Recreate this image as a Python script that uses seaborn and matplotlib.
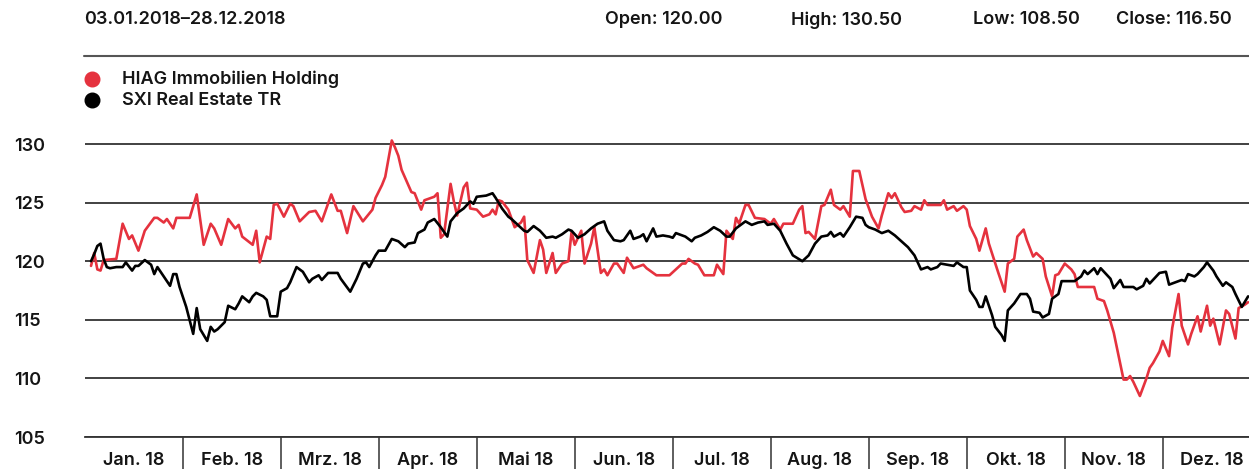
import pandas as pd
import matplotlib.pyplot as plt
import matplotlib.lines as mlines
import seaborn as sns

# values (dates as MM-DD in 2018)
hiag_dates = [
    "01-03", "01-04", "01-05", "01-06", "01-07", "01-11", "01-13", "01-15", "01-16", "01-18", "01-20", "01-23", "01-24", "01-26", "01-27", "01-29", "01-30",
    "02-03", "02-05", "02-07", "02-09", "02-10", "02-12", "02-14", "02-16", "02-17", "02-18", "02-21", "02-22", "02-23", "02-25", "02-26", "02-27", "02-28",
    "03-02", "03-04", "03-05", "03-07", "03-10", "03-12", "03-14", "03-17", "03-19", "03-20", "03-22", "03-24", "03-27", "03-30", "03-31",
    "04-02", "04-03", "04-05", "04-06", "04-07", "04-08", "04-11", "04-12", "04-14", "04-15", "04-18", "04-19", "04-20", "04-21", "04-23", "04-24", "04-25", "04-27", "04-28", "04-29",
    "05-01", "05-03", "05-05", "05-06", "05-07", "05-08", "05-09", "05-11", "05-13", "05-15", "05-16", "05-17", "05-19", "05-21", "05-22", "05-23", "05-25", "05-26", "05-28", "05-30", "05-31",
    "06-01", "06-03", "06-04", "06-06", "06-07", "06-09", "06-10", "06-11", "06-13", "06-14", "06-16", "06-17", "06-19", "06-22", "06-23", "06-26", "06-30",
    "07-04", "07-05", "07-06", "07-08", "07-09", "07-11", "07-14", "07-15", "07-17", "07-18", "07-20", "07-21", "07-22", "07-24", "07-25", "07-27", "07-30",
    "08-01", "08-02", "08-04", "08-05", "08-08", "08-10", "08-11", "08-12", "08-13", "08-15", "08-17", "08-18", "08-20", "08-21", "08-23", "08-24", "08-26", "08-27", "08-29", "08-31",
    "09-02", "09-04", "09-05", "09-07", "09-08", "09-09", "09-11", "09-12", "09-14", "09-15", "09-17", "09-18", "09-19", "09-23", "09-24", "09-25", "09-27", "09-28", "09-30",
    "10-01", "10-02", "10-04", "10-05", "10-07", "10-08", "10-11", "10-13", "10-14", "10-16", "10-17", "10-19", "10-20", "10-22", "10-23", "10-25", "10-26", "10-28", "10-29", "10-30",
    "11-01", "11-03", "11-04", "11-05", "11-10", "11-11", "11-13", "11-14", "11-16", "11-19", "11-20", "11-21", "11-22", "11-24", "11-26", "11-27", "11-28", "11-30",
    "12-01", "12-03", "12-04", "12-06", "12-07", "12-09", "12-10", "12-12", "12-13", "12-15", "12-16", "12-17", "12-19", "12-21", "12-22", "12-24", "12-25", "12-27", "12-28",
]
hiag_values = [
    119.6, 120.7, 119.3, 119.2, 120.1, 120.2, 123.2, 121.9, 122.2, 120.9, 122.6, 123.7, 123.7, 123.3, 123.6, 122.8, 123.7,
    123.7, 125.7, 121.4, 123.2, 122.8, 121.4, 123.6, 122.8, 123.1, 122.1, 121.4, 122.6, 119.9, 122.1, 121.9, 124.8, 124.9,
    123.8, 124.9, 124.7, 123.4, 124.2, 124.3, 123.4, 125.7, 124.3, 124.3, 122.4, 124.7, 123.4, 124.4, 125.4,
    126.5, 127.2, 130.3, 129.7, 129.0, 127.8, 125.9, 125.8, 124.4, 125.2, 125.5, 125.8, 122.0, 122.3, 126.6, 125.1, 123.9, 126.3, 126.7, 124.5,
    124.4, 123.8, 124.0, 124.4, 124.0, 125.2, 125.1, 124.4, 122.9, 123.3, 123.8, 120.1, 119.0, 121.8, 121.0, 119.0, 120.7, 119.0, 119.8, 120.0, 122.5,
    121.4, 122.6, 119.8, 121.5, 122.9, 119.0, 119.3, 118.8, 119.8, 119.8, 119.0, 120.3, 119.4, 119.7, 119.4, 118.8, 118.8,
    119.8, 119.8, 120.2, 119.8, 119.7, 118.8, 118.8, 119.7, 118.9, 122.6, 121.9, 123.7, 123.2, 124.8, 124.8, 123.7, 123.6,
    123.2, 123.6, 122.7, 123.2, 123.2, 124.4, 124.7, 122.4, 122.5, 121.9, 124.7, 124.8, 126.1, 124.8, 124.4, 124.7, 123.8, 127.7, 127.7, 125.3,
    123.8, 122.8, 123.9, 125.8, 125.4, 125.8, 124.6, 124.2, 124.3, 124.7, 124.4, 125.2, 124.8, 124.8, 125.2, 124.4, 124.7, 124.3, 124.7,
    124.4, 123.0, 121.9, 120.9, 122.8, 121.5, 119.0, 117.4, 119.8, 120.2, 122.1, 122.7, 121.8, 120.4, 120.7, 120.2, 118.7, 117.0, 118.8, 118.9,
    119.8, 119.3, 118.9, 117.8, 117.8, 116.8, 116.6, 115.8, 113.9, 109.9, 109.9, 110.2, 109.7, 108.5, 110.0, 110.9, 111.3, 112.3,
    113.2, 111.9, 114.3, 117.2, 114.5, 112.9, 113.8, 115.3, 114.0, 116.2, 114.5, 115.1, 112.9, 115.8, 115.5, 113.4, 116.0, 116.3, 116.5,
]

sxi_dates = [
    "01-03", "01-04", "01-05", "01-06", "01-07", "01-08", "01-09", "01-11", "01-13", "01-14", "01-16", "01-17", "01-18", "01-20", "01-22", "01-23", "01-24", "01-26", "01-28", "01-29", "01-30", "01-31",
    "02-02", "02-04", "02-05", "02-06", "02-08", "02-09", "02-10", "02-11", "02-13", "02-14", "02-16", "02-17", "02-18", "02-20", "02-21", "02-22", "02-24", "02-25", "02-26", "02-28",
    "03-01", "03-03", "03-04", "03-06", "03-08", "03-10", "03-11", "03-13", "03-14", "03-16", "03-19", "03-20", "03-23", "03-25", "03-27", "03-28", "03-29", "03-31",
    "04-01", "04-03", "04-05", "04-07", "04-09", "04-10", "04-12", "04-13", "04-15", "04-16", "04-18", "04-20", "04-22", "04-23", "04-25", "04-27", "04-29", "04-30",
    "05-01", "05-04", "05-06", "05-07", "05-09", "05-11", "05-12", "05-14", "05-16", "05-17", "05-19", "05-21", "05-23", "05-25", "05-26", "05-28", "05-30", "05-31",
    "06-02", "06-04", "06-06", "06-08", "06-10", "06-11", "06-13", "06-15", "06-16", "06-18", "06-19", "06-21", "06-22", "06-23", "06-25", "06-26", "06-28", "06-30",
    "07-01", "07-02", "07-05", "07-07", "07-08", "07-10", "07-12", "07-14", "07-16", "07-18", "07-19", "07-21", "07-24", "07-26", "07-28", "07-30", "07-31",
    "08-02", "08-04", "08-06", "08-08", "08-11", "08-13", "08-15", "08-17", "08-19", "08-20", "08-21", "08-23", "08-24", "08-26", "08-28", "08-30", "08-31",
    "09-01", "09-03", "09-05", "09-07", "09-09", "09-11", "09-13", "09-15", "09-17", "09-19", "09-20", "09-22", "09-23", "09-25", "09-27", "09-28", "09-30",
    "10-01", "10-02", "10-04", "10-05", "10-06", "10-07", "10-09", "10-10", "10-12", "10-13", "10-14", "10-16", "10-18", "10-20", "10-21", "10-22", "10-24", "10-25", "10-27", "10-28", "10-30", "10-31",
    "11-04", "11-06", "11-07", "11-08", "11-10", "11-11", "11-12", "11-13", "11-15", "11-16", "11-18", "11-19", "11-21", "11-22", "11-23", "11-25", "11-26", "11-27", "11-29", "11-30",
    "12-02", "12-03", "12-05", "12-07", "12-08", "12-09", "12-11", "12-12", "12-14", "12-15", "12-17", "12-18", "12-20", "12-21", "12-23", "12-24", "12-26", "12-28",
]
sxi_values = [
    120.0, 120.6, 121.3, 121.5, 120.2, 119.5, 119.4, 119.5, 119.5, 119.9, 119.2, 119.6, 119.6, 120.1, 119.7, 118.9, 119.5, 118.7, 117.9, 118.9, 118.9, 117.8,
    116.1, 113.8, 116.0, 114.2, 113.2, 114.4, 114.0, 114.2, 114.8, 116.2, 115.9, 116.4, 117.0, 116.5, 117.0, 117.3, 117.0, 116.7, 115.3, 115.3,
    117.4, 117.7, 118.2, 119.5, 119.1, 118.2, 118.5, 118.8, 118.4, 119.0, 119.0, 118.5, 117.4, 118.5, 119.8, 119.9, 119.5, 120.5,
    120.9, 120.9, 121.9, 121.7, 121.2, 121.5, 121.6, 122.4, 122.7, 123.3, 123.6, 122.9, 122.1, 123.4, 124.1, 124.5, 125.1, 124.9,
    125.5, 125.6, 125.8, 125.4, 124.5, 123.8, 123.6, 123.1, 122.6, 122.5, 123.0, 122.6, 122.0, 122.1, 122.0, 122.3, 122.7, 122.6,
    122.0, 122.3, 122.8, 123.2, 123.4, 122.6, 121.8, 121.7, 121.8, 122.6, 121.9, 122.1, 122.3, 121.7, 122.8, 122.1, 122.2, 122.1,
    122.0, 122.4, 122.1, 121.7, 122.0, 122.2, 122.5, 122.9, 122.6, 122.1, 122.1, 122.8, 123.4, 123.1, 123.3, 123.4, 123.1,
    123.2, 122.6, 121.5, 120.5, 120.0, 120.5, 121.5, 122.1, 122.2, 122.5, 122.1, 122.4, 122.1, 122.9, 123.8, 123.7, 123.1,
    122.9, 122.7, 122.4, 122.6, 122.2, 121.7, 121.2, 120.5, 119.3, 119.5, 119.3, 119.5, 119.8, 119.7, 119.6, 119.9, 119.5,
    119.5, 117.5, 116.7, 116.1, 116.1, 117.0, 115.4, 114.4, 113.7, 113.2, 115.8, 116.4, 117.2, 117.2, 116.8, 115.7, 115.6, 115.2, 115.5, 116.8, 117.2, 118.3,
    118.3, 118.7, 119.2, 118.9, 119.4, 118.9, 119.4, 119.1, 118.5, 117.7, 118.4, 117.8, 117.8, 117.8, 117.6, 117.9, 118.5, 118.1, 118.7, 119.0,
    119.1, 118.0, 118.2, 118.4, 118.3, 118.9, 118.7, 118.9, 119.5, 119.9, 119.2, 118.7, 117.9, 118.2, 117.8, 117.2, 116.1, 117.0,
]

months = ["Jan. 18", "Feb. 18", "Mrz. 18", "Apr. 18", "Mai 18", "Jun. 18",
          "Jul. 18", "Aug. 18", "Sep. 18", "Okt. 18", "Nov. 18", "Dez. 18"]
header = "03.01.2018\u201328.12.2018"
stats = ["Open: 120.00", "High: 130.50", "Low: 108.50", "Close: 116.50"]
names = ["HIAG Immobilien Holding", "SXI Real Estate TR"]
colors = {names[0]: "#e5323e", names[1]: "#000000"}


def month_pos(dates):
    # every month gets the same width on the axis
    d = pd.to_datetime(["2018-" + s for s in dates])
    return (d.month - 1) + (d.day - 1) / d.days_in_month


df = pd.concat([
    pd.DataFrame({"pos": month_pos(hiag_dates), "value": hiag_values, "series": names[0]}),
    pd.DataFrame({"pos": month_pos(sxi_dates), "value": sxi_values, "series": names[1]}),
])

sns.set_theme(style="white")
plt.rcParams["font.family"] = ["Inter", "DejaVu Sans"]
plt.rcParams["font.weight"] = "semibold"
txt = "#151515"
fs = 13
W, H = 1249, 469

fig = plt.figure(figsize=(W / 100, H / 100), dpi=100)
ax = fig.add_axes([84.7 / W, 32 / H, 1 - 84.7 / W, 304.7 / H])

sns.lineplot(data=df, x="pos", y="value", hue="series", palette=colors,
             estimator=None, linewidth=1.9, legend=False, ax=ax)

ax.set_xlim(0, 11.88)
ax.set_ylim(105, 131)
ax.set_xlabel("")
ax.set_ylabel("")

ax.set_yticks([105, 110, 115, 120, 125, 130])
ax.set_yticklabels(["105", "110", "115", "120", "125", "130"])
for t in ax.get_yticklabels():
    t.set_horizontalalignment("left")
ax.tick_params(axis="y", left=False, length=0, pad=51, labelsize=fs, labelcolor=txt)
ax.grid(axis="y", color="#333333", linewidth=1.3)
ax.grid(axis="x", visible=False)

# month separators as major ticks, labels centred on minor ticks
ax.set_xticks(range(1, 12))
ax.set_xticklabels([""] * 11)
ax.set_xticks([i + 0.5 for i in range(12)], minor=True)
ax.set_xticklabels(months, minor=True)
ax.tick_params(axis="x", which="major", bottom=True, length=26, width=1.1,
               color="#333333", direction="out")
ax.tick_params(axis="x", which="minor", bottom=True, length=0, pad=11,
               labelsize=fs, labelcolor=txt)

for side in ["top", "right", "left"]:
    ax.spines[side].set_visible(False)
ax.spines["bottom"].set_color("#333333")
ax.spines["bottom"].set_linewidth(1.3)

# header row
fig.text(84 / W, 1 - 20 / H, header, fontsize=fs, color=txt, va="center")
for label, right in zip(stats, [722, 902, 1080, 1232]):
    fig.text(right / W, 1 - 20 / H, label, fontsize=fs, color=txt, va="center", ha="right")
fig.add_artist(mlines.Line2D([84 / W, 1], [1 - 56 / H] * 2, color="#555555", linewidth=1.5))

# legend
for i, name in enumerate(names):
    y = 1 - (79 + 21 * i) / H
    fig.add_artist(mlines.Line2D([92 / W], [y], marker="o", markersize=10.5,
                                 color=colors[name], linestyle="none"))
    fig.text(122 / W, y, name, fontsize=fs, color=txt, va="center")

plt.savefig("out.png", dpi=100)
